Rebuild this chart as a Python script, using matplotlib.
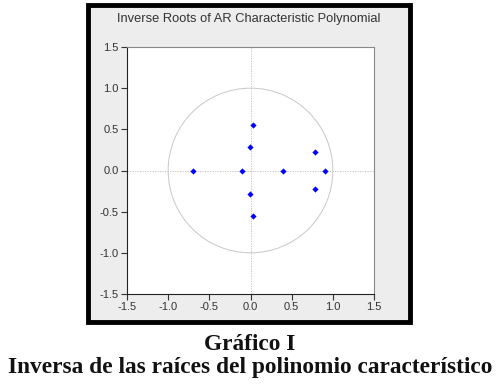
import numpy as np
import matplotlib
matplotlib.use("Agg")
import matplotlib.pyplot as plt
from matplotlib.patches import Rectangle, Circle

root_re = [0.03, 0.03, -0.01, -0.01, 0.78, 0.78, -0.70, -0.10, 0.40, 0.91]
root_im = [0.55, -0.55, 0.28, -0.28, 0.23, -0.23, 0.0, 0.0, 0.0, 0.0]
ticks = [-1.5, -1.0, -0.5, 0.0, 0.5, 1.0, 1.5]
tick_labels = ["-1.5", "-1.0", "-0.5", "0.0", "0.5", "1.0", "1.5"]
title = "Inverse Roots of AR Characteristic Polynomial"
caption1 = "Gráfico I"
caption2 = "Inversa de las raíces del polinomio característico"

W, H = 501, 387
fig = plt.figure(figsize=(W / 100, H / 100), dpi=100)
fig.patch.set_facecolor("white")

# outer frame
fx0, fx1, fy0, fy1 = 88, 410, 5, 322
frame = Rectangle((fx0 / W, 1 - fy1 / H), (fx1 - fx0) / W, (fy1 - fy0) / H,
                  transform=fig.transFigure, facecolor="#EDEDED",
                  edgecolor="black", linewidth=3.5, zorder=-5)
fig.patches.append(frame)

ax0, ax1, ay0, ay1 = 127, 374, 47, 294
ax = fig.add_axes([ax0 / W, 1 - ay1 / H, (ax1 - ax0) / W, (ay1 - ay0) / H])
ax.set_zorder(5)
ax.set_facecolor("white")
ax.set_xlim(-1.5, 1.5)
ax.set_ylim(-1.5, 1.5)
ax.set_xticks(ticks)
ax.set_xticklabels(tick_labels)
ax.set_yticks(ticks)
ax.set_yticklabels(tick_labels)
for lab in ax.get_xticklabels() + ax.get_yticklabels():
    lab.set_fontfamily("Liberation Sans")
    lab.set_fontsize(8)
    lab.set_color("#333333")
ax.tick_params(direction="out", length=4, width=0.8, color="#333333", pad=2)
for s in ["left", "bottom"]:
    ax.spines[s].set_color("#222222")
    ax.spines[s].set_linewidth(0.8)
for s in ["right", "top"]:
    ax.spines[s].set_color("#888888")
    ax.spines[s].set_linewidth(0.8)

ax.axhline(0, color="#BBBBBB", lw=0.6, ls=(0, (1.5, 1.5)), zorder=1)
ax.axvline(0, color="#BBBBBB", lw=0.6, ls=(0, (1.5, 1.5)), zorder=1)
ax.add_patch(Circle((0, 0), 1.0, fill=False, edgecolor="#C8C8C8", lw=0.7, zorder=1))
ax.scatter(root_re, root_im, s=10, color="#0000FF", marker="D", zorder=3, linewidths=0)

fig.text(249 / W, 1 - 19 / H, title, ha="center", va="center",
         fontfamily="Liberation Sans", fontsize=9.3, color="#333333", zorder=6)

fig.text(250 / W, 1 - 345 / H, caption1, ha="center", va="center",
         fontfamily="Liberation Serif", fontweight="bold", fontsize=16.8, color="#111111")
fig.text(250 / W, 1 - 368 / H, caption2, ha="center", va="center",
         fontfamily="Liberation Serif", fontweight="bold", fontsize=16.8, color="#111111")

fig.savefig("out.png", dpi=100)
